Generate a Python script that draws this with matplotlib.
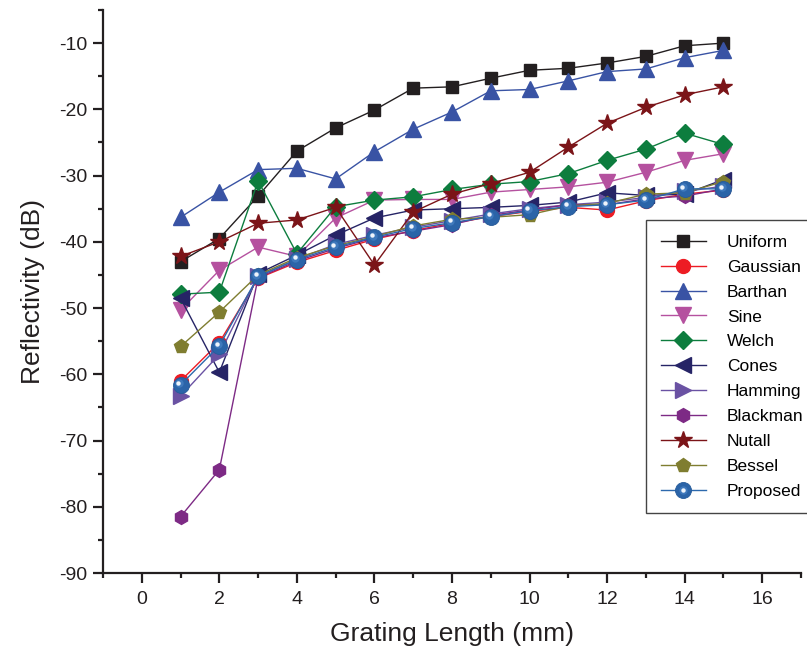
import matplotlib
matplotlib.use("Agg")
import matplotlib.pyplot as plt
from matplotlib.transforms import offset_copy
from matplotlib.ticker import MultipleLocator
from matplotlib.legend_handler import HandlerTuple

plt.rcParams['font.family'] = ['Liberation Sans', 'DejaVu Sans']
plt.rcParams['axes.unicode_minus'] = False

# longueur du réseau (mm)
length = [1, 2, 3, 4, 5, 6, 7, 8, 9, 10, 11, 12, 13, 14, 15]

# réflectivité (dB) pour chaque apodisation
uniform = [-43.0, -39.5, -33.1, -26.3, -22.8, -20.1, -16.8, -16.6, -15.3, -14.1, -13.8, -13.0, -12.0, -10.4, -10.0]
gaussian = [-61.0, -55.2, -45.5, -43.1, -41.3, -39.6, -38.3, -37.2, -36.2, -35.4, -34.8, -35.2, -33.8, -32.8, -32.2]
barthan = [-36.3, -32.5, -29.1, -28.9, -30.5, -26.4, -23.0, -20.4, -17.2, -17.0, -15.7, -14.3, -13.9, -12.2, -11.1]
sine = [-50.3, -44.3, -40.8, -42.2, -36.4, -33.7, -33.6, -33.6, -32.5, -32.1, -31.7, -31.0, -29.5, -27.7, -26.7]
welch = [-47.9, -47.6, -30.8, -41.8, -34.7, -33.7, -33.2, -32.1, -31.3, -30.9, -29.7, -27.7, -26.0, -23.6, -25.3]
cones = [-48.5, -59.7, -44.8, -42.0, -39.0, -36.4, -35.2, -35.0, -34.8, -34.5, -34.0, -32.6, -33.0, -32.8, -30.6]
hamming = [-63.3, -57.0, -45.2, -42.6, -40.4, -39.0, -37.8, -36.8, -35.8, -35.0, -34.4, -34.0, -33.3, -32.4, -31.6]
blackman = [-81.5, -74.4, -45.4, -42.9, -41.0, -39.4, -38.4, -37.4, -36.0, -35.2, -34.4, -34.4, -33.5, -33.1, -32.0]
nutall = [-42.2, -40.0, -37.2, -36.7, -34.8, -43.5, -35.5, -32.8, -31.2, -29.5, -25.7, -22.1, -19.7, -17.8, -16.6]
bessel = [-55.8, -50.6, -45.0, -42.4, -40.6, -39.2, -37.6, -36.6, -36.3, -35.9, -34.6, -34.2, -32.8, -32.6, -30.9]
proposed = [-61.6, -55.7, -45.2, -42.7, -40.8, -39.3, -38.0, -37.1, -36.2, -35.3, -34.7, -34.4, -33.7, -32.0, -32.0]

fig = plt.figure(figsize=(8.07, 6.6), dpi=100)
ax = fig.add_axes([103 / 807, 87 / 660, 698 / 807, 563 / 660])

# (nom, données, couleur, marqueur, taille)
series = [
    ('Uniform', uniform, '#231f20', 's', 9),
    ('Gaussian', gaussian, '#ed1c24', 'o', 10),
    ('Barthan', barthan, '#3953a4', '^', 11),
    ('Sine', sine, '#b5519f', 'v', 11),
    ('Welch', welch, '#0d7d3e', 'D', 9),
    ('Cones', cones, '#262466', '<', 11),
    ('Hamming', hamming, '#6a52a3', '>', 11),
    ('Blackman', blackman, '#7d2a85', 'h', 10),
    ('Nutall', nutall, '#7b1418', '*', 13),
    ('Bessel', bessel, '#7f7d30', 'p', 10),
]

handles = []
for name, vals, col, mk, ms in series:
    h, = ax.plot(length, vals, color=col, marker=mk, markersize=ms,
                 markeredgecolor=col, linewidth=1, label=name)
    handles.append(h)

# Proposed : sphère bleue avec reflet
base, = ax.plot(length, proposed, color='#2d69ad', marker='o', markersize=11.5,
                markerfacecolor='#2b64a8', markeredgecolor='#255b9a',
                markeredgewidth=0.6, linewidth=1)
mid_tr = offset_copy(ax.transData, fig=fig, x=-1.2, y=1.2, units='points')
mid, = ax.plot(length, proposed, linestyle='none', marker='o', markersize=6,
               markerfacecolor='#3f79bc', markeredgewidth=0, transform=mid_tr)
hi_tr = offset_copy(ax.transData, fig=fig, x=-1.6, y=1.6, units='points')
hi, = ax.plot(length, proposed, linestyle='none', marker='o', markersize=3.2,
              markerfacecolor='#eef4fb', markeredgewidth=0, transform=hi_tr)
handles.append((base, mid, hi))
labels = [s[0] for s in series] + ['Proposed']

ax.set_xlim(-1, 17)
ax.set_ylim(-90, -5)
ax.xaxis.set_minor_locator(MultipleLocator(1))
ax.yaxis.set_minor_locator(MultipleLocator(5))
ax.set_xticks([0, 2, 4, 6, 8, 10, 12, 14, 16])
ax.set_yticks([-10, -20, -30, -40, -50, -60, -70, -80, -90])

for side in ['top', 'right']:
    ax.spines[side].set_visible(False)
for side in ['left', 'bottom']:
    ax.spines[side].set_linewidth(1.6)
    ax.spines[side].set_color('#231f20')

ax.tick_params(which='major', direction='out', length=7, width=1.6,
               labelsize=14, color='#231f20', labelcolor='#231f20')
ax.tick_params(which='minor', direction='out', length=3.5, width=1.6,
               color='#231f20')
ax.tick_params(axis='x', which='major', pad=6)
ax.tick_params(axis='y', which='major', pad=4)

ax.set_xlabel('Grating Length (mm)', fontsize=19, color='#231f20', labelpad=10)
ax.set_ylabel('Reflectivity (dB)', fontsize=19, color='#231f20', labelpad=10)

leg = ax.legend(handles, labels, loc='upper left',
                bbox_to_anchor=(646 / 807, 1 - 220 / 660),
                bbox_transform=fig.transFigure, borderaxespad=0,
                fontsize=12.5, frameon=True, fancybox=False, framealpha=1,
                edgecolor='#444444', borderpad=0.85, labelspacing=0.56,
                handlelength=2.6, handletextpad=1.2, numpoints=1,
                handler_map={tuple: HandlerTuple(ndivide=1)})
leg.get_frame().set_linewidth(1.0)

fig.savefig('out.png', dpi=100)
